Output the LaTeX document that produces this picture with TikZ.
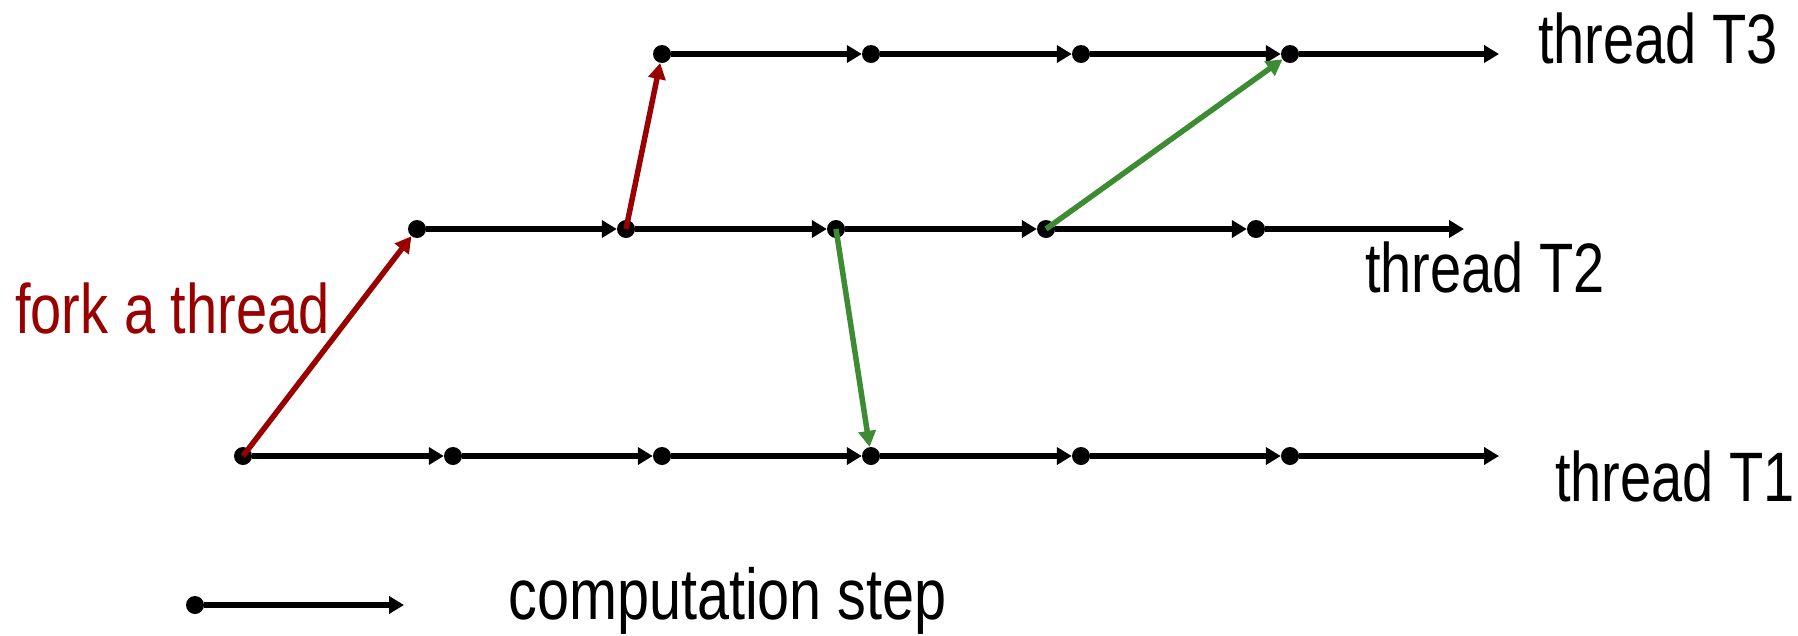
\documentclass[tikz,border=0pt]{standalone}
\usepackage{fontspec}
\setmainfont[FakeStretch=0.80]{Liberation Sans}
\usetikzlibrary{arrows.meta}
\definecolor{forkred}{RGB}{153,0,0}
\definecolor{syncgreen}{RGB}{61,139,50}
\begin{document}
\begin{tikzpicture}[x=1pt,y=-1pt,
  dot/.style={circle,fill=black,inner sep=0pt,minimum size=18pt},
  stepline/.style={line width=5.5pt,-{Triangle[length=15pt,width=17pt]}},
  forkline/.style={forkred,line width=5.5pt,-{Triangle[length=16pt,width=17pt]}},
  syncline/.style={syncgreen,line width=5.5pt,-{Triangle[length=16pt,width=17pt]}},
  lbl/.style={anchor=base west,inner sep=0pt,font=\fontsize{70}{74}\selectfont}]
\useasboundingbox (0,0) rectangle (1798,635);

% thread T1
\node[dot] (a1) at (243,456) {};
\node[dot] (a2) at (453,456) {};
\node[dot] (a3) at (662,456) {};
\node[dot] (a4) at (871,456) {};
\node[dot] (a5) at (1081,456) {};
\node[dot] (a6) at (1290,456) {};
\coordinate (aE) at (1499,456);
% thread T2
\node[dot] (b1) at (417,229) {};
\node[dot] (b2) at (626,229) {};
\node[dot] (b3) at (836,229) {};
\node[dot] (b4) at (1046,229) {};
\node[dot] (b5) at (1256,229) {};
\coordinate (bE) at (1464,229);
% thread T3
\node[dot] (c1) at (662,54) {};
\node[dot] (c2) at (871,54) {};
\node[dot] (c3) at (1081,54) {};
\node[dot] (c4) at (1290,54) {};
\coordinate (cE) at (1499,54);

% computation steps
\foreach \p/\q in {a1/a2,a2/a3,a3/a4,a4/a5,a5/a6,a6/aE,
                   b1/b2,b2/b3,b3/b4,b4/b5,b5/bE,
                   c1/c2,c2/c3,c3/c4,c4/cE}
  \draw[stepline] (\p) -- (\q);

% forks
\draw[forkline] (a1.center) -- (b1);
\draw[forkline] (b2.center) -- (c1);
% synchronisations
\draw[syncline] (b3.center) -- (a4);
\draw[syncline] (b4.center) -- (c4);

% labels
\node[lbl] (t3) at (1538,63) {thread T3};
\node[lbl] (t2) at (1365,292) {thread T2};
\node[lbl] (t1) at (1555,501) {thread T1};
\node[lbl,text=forkred] (fk) at (15,333) {fork a thread};

% legend
\node[dot] (l0) at (195,605) {};
\coordinate (l1) at (404,605);
\draw[stepline] (l0) -- (l1);
\node[lbl,font=\fontsize{72}{76}\selectfont] (lt) at (508,619) {computation step};
\end{tikzpicture}
\end{document}
